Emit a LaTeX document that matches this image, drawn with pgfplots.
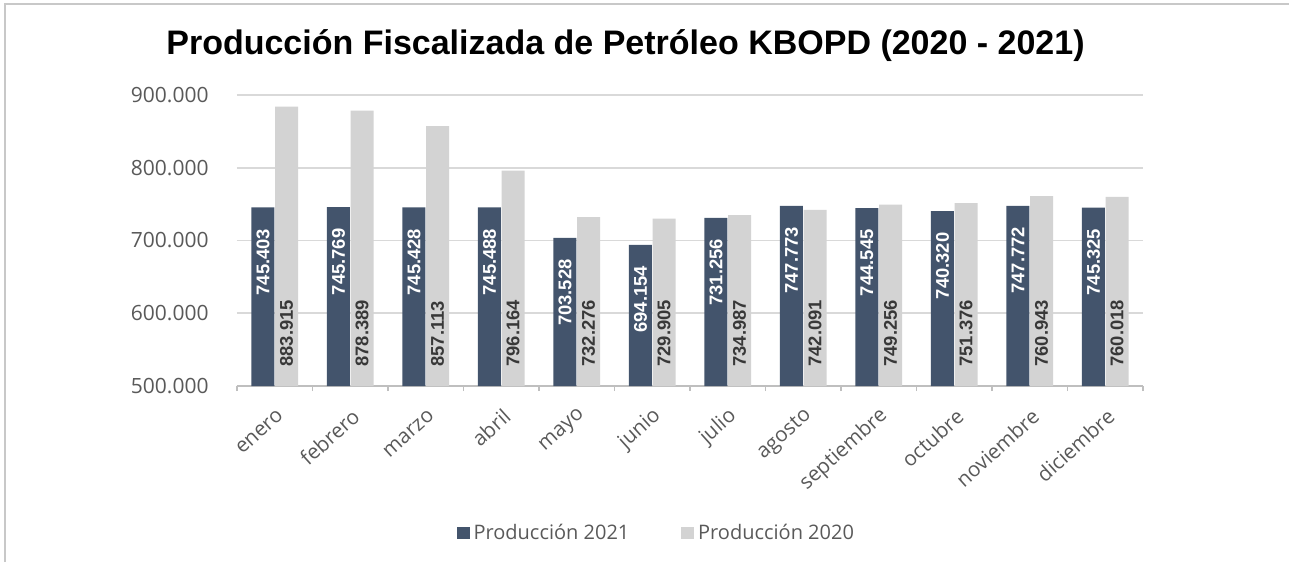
\documentclass[border=0pt]{standalone}
\usepackage{fontspec}
\setmainfont{Open Sans}
\newfontfamily\libsans{Liberation Sans}
\usepackage{pgfplots}
\usepackage{pgfplotstable}
\pgfplotsset{compat=1.18}

\definecolor{azul}{HTML}{43546C}
\definecolor{gris}{HTML}{D3D3D3}
\definecolor{grilla}{HTML}{D9D9D9}
\definecolor{eje}{HTML}{BFBFBF}
\definecolor{texto}{HTML}{595959}
\definecolor{marco}{HTML}{C8C8C8}

% produccion mensual (barriles por dia)
\pgfplotstableread{
mes        p2021   p2020
enero      745403  883915
febrero    745769  878389
marzo      745428  857113
abril      745488  796164
mayo       703528  732276
junio      694154  729905
julio      731256  734987
agosto     747773  742091
septiembre 744545  749256
octubre    740320  751376
noviembre  747772  760943
diciembre  745325  760018
}\datos

\begin{document}
\begin{tikzpicture}
\begin{axis}[
    at={(0,0)}, anchor=south west,
    scale only axis,
    width=453pt, height=145.5pt,
    ybar, bar width=11.5pt,
    xmin=-0.5, xmax=11.5,
    ymin=500000, ymax=900000,
    ytick={500000,600000,700000,800000,900000},
    scaled y ticks=false,
    xtick={0,...,11},
    xticklabels from table={\datos}{mes},
    minor xtick={-0.5,0.5,...,11.5},
    major tick length=0pt, minor tick length=2.5pt,
    tick align=outside,
    minor tick style={eje, line width=0.6pt},
    ymajorgrids, grid style={grilla, line width=0.8pt},
    axis x line*=bottom, axis y line*=left,
    x axis line style={eje, line width=0.8pt, -},
    y axis line style={draw=none},
    ticklabel style={font=\fontsize{10.5}{12}\selectfont, text=texto},
    yticklabel style={inner sep=0pt, xshift=-14pt},
    xticklabel style={font=\fontsize{10.3}{12}\selectfont, yshift=-13.5pt, xshift=3pt, rotate=42, anchor=east, inner sep=0pt},
    legend style={at={(0.464,-0.505)}, anchor=center, draw=none, fill=none,
        legend columns=2, font=\fontsize{10}{12}\selectfont\color{texto},
        /tikz/every even column/.append style={column sep=24pt}},
    legend image code/.code={\fill[#1] (0pt,-3.2pt) rectangle (6.4pt,3.2pt);},
    nodes near coords,
    nodes near coords style={font=\libsans\bfseries\fontsize{9.2}{11}\selectfont},
    /pgf/number format/fixed,
    /pgf/number format/precision=0,
    /pgf/number format/1000 sep={.},
    /pgf/number format/assume math mode=true,
]
\addplot[fill=azul, draw=none, bar shift=-5.9pt,
    nodes near coords style={text=white, inner sep=0pt, yshift=-10.5pt, rotate=90, anchor=east}]
    table[x expr=\coordindex, y=p2021]{\datos};
\addplot[fill=gris, draw=none, bar shift=5.9pt, nodes near coords=\empty]
    table[x expr=\coordindex, y=p2020]{\datos};
% etiquetas de 2020, al pie de cada barra
\addplot[draw=none, fill=none, bar shift=5.9pt, forget plot, point meta=\thisrow{p2020},
    nodes near coords style={text=black!78, inner sep=0pt, yshift=9.5pt, rotate=90, anchor=west}]
    table[x expr=\coordindex, y expr=500000]{\datos};
\legend{Producción 2021, Producción 2020}
\end{axis}
\node[font=\libsans\bfseries\fontsize{17}{20}\selectfont] at (194.25pt,170pt)
    {Producción Fiscalizada de Petróleo KBOPD (2020 - 2021)};
\draw[marco, line width=0.75pt] (-116pt,-88pt) -- (-116pt,191pt) -- (526pt,191pt);
\pgfresetboundingbox
\path (-118.5pt,-88pt) rectangle (526pt,193pt);
\end{tikzpicture}
\end{document}
